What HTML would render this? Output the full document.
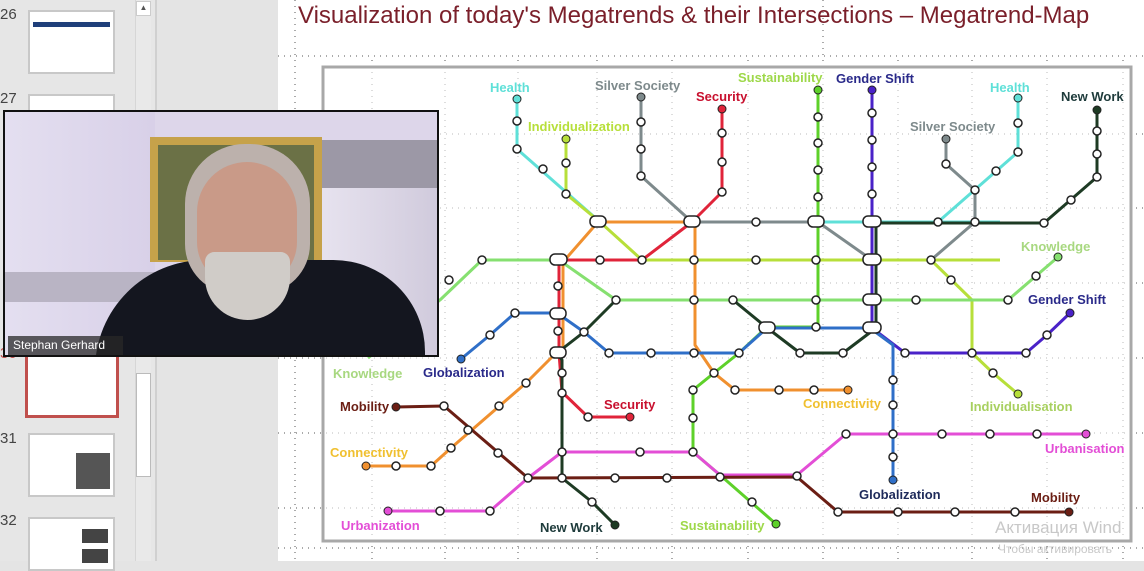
<!DOCTYPE html>
<html><head><meta charset="utf-8"><style>
body{margin:0;width:1144px;height:561px;overflow:hidden;background:#e4e4e4;font-family:"Liberation Sans",sans-serif;position:relative}
.a{position:absolute}
.num{position:absolute;left:0;font-size:15px;color:#444}
.th{position:absolute;background:#fff;border:2px solid #c8c8c8}
.lb{font-family:"Liberation Sans",sans-serif;font-weight:bold}
</style></head><body>
<div class="a" style="left:0;top:0;width:155px;height:561px;background:#e6e6e6"></div>
<div class="a" style="left:155px;top:0;width:2px;height:561px;background:#d0d0d0"></div>
<div class="a" style="left:135px;top:0;width:15px;height:561px;background:#e9e9e9;border-left:1px solid #d6d6d6"></div>
<div class="a" style="left:136px;top:1px;width:13px;height:13px;background:#fff;border:1px solid #ccc;font-size:8px;text-align:center;line-height:12px;color:#555">▲</div>
<div class="a" style="left:136px;top:373px;width:13px;height:102px;background:#fff;border:1px solid #bbb"></div>
<div class="num" style="top:6px">26</div>
<div class="num" style="top:90px">27</div>
<div class="num" style="top:430px">31</div>
<div class="num" style="top:512px">32</div>
<div class="num" style="top:345px;color:#c0504d">30</div>
<div class="th" style="left:28px;top:10px;width:83px;height:60px"><div style="margin:10px 3px 0;height:5px;background:#1f3f7a"></div></div>
<div class="th" style="left:28px;top:94px;width:83px;height:20px"></div>
<div class="th" style="left:25px;top:352px;width:88px;height:60px;border:3px solid #c0504d"></div>
<div class="th" style="left:28px;top:433px;width:83px;height:60px"><div style="position:absolute;left:46px;top:18px;width:34px;height:36px;background:#555"></div></div>
<div class="th" style="left:28px;top:517px;width:83px;height:50px"><div style="position:absolute;left:52px;top:10px;width:26px;height:14px;background:#444"></div><div style="position:absolute;left:52px;top:30px;width:26px;height:14px;background:#444"></div></div>
<div class="a" style="left:278px;top:0;width:866px;height:561px;background:#fff"></div>
<div class="a" style="left:298px;top:2px;font-size:24px;color:#7a1f2a;white-space:nowrap">Visualization of today's Megatrends &amp; their Intersections – Megatrend-Map</div>
<svg class="a" style="left:0;top:0" width="1144" height="561">
<g stroke="#555" stroke-width="1" stroke-dasharray="1,5">
<line x1="278" y1="56" x2="1144" y2="56"/><line x1="278" y1="134" x2="1144" y2="134"/><line x1="278" y1="208" x2="1144" y2="208"/><line x1="278" y1="283" x2="1144" y2="283"/><line x1="278" y1="358" x2="1144" y2="358"/><line x1="278" y1="433" x2="1144" y2="433"/><line x1="278" y1="508" x2="1144" y2="508"/><line x1="278" y1="548" x2="1144" y2="548"/>
<line x1="295" y1="0" x2="295" y2="561"/><line x1="372" y1="60" x2="372" y2="561"/><line x1="445" y1="60" x2="445" y2="561"/><line x1="518" y1="60" x2="518" y2="561"/><line x1="597" y1="60" x2="597" y2="561"/><line x1="672" y1="60" x2="672" y2="561"/><line x1="748" y1="60" x2="748" y2="561"/><line x1="823" y1="0" x2="823" y2="561"/><line x1="898" y1="60" x2="898" y2="561"/><line x1="972" y1="60" x2="972" y2="561"/><line x1="1047" y1="60" x2="1047" y2="561"/><line x1="1123" y1="60" x2="1123" y2="561"/>
</g>
<rect x="323" y="67" width="808" height="474" fill="#fff" fill-opacity="0.6" stroke="#a8a8a8" stroke-width="3"/>
<g fill="none" stroke-width="3" stroke-linejoin="round">
<polyline stroke="#5fe0d8" points="517,97 517,149 600,222 1000,222"/>
<polyline stroke="#5fe0d8" points="1018,98 1018,152 938,222 872,222"/>
<polyline stroke="#b7df3a" points="566,139 566,194 600,222 642,260 1000,260"/>
<polyline stroke="#b7df3a" points="872,260 931,260 972,300 972,353 993,373 1018,394"/>
<polyline stroke="#7e8a8c" points="641,97 641,176 692,222 818,222 872,260"/>
<polyline stroke="#7e8a8c" points="946,139 946,164 975,190 975,222 931,260"/>
<polyline stroke="#e0243a" points="722,109 722,192 692,222 642,260 559,260 559,353 562,392 588,417 630,417"/>
<polyline stroke="#f0902f" points="563,353 563,262 598,222 695,222 695,345 714,373 735,390 848,390"/>
<polyline stroke="#f0902f" points="366,466 431,466 451,448 526,383 556,353"/>
<polyline stroke="#5ed12a" points="818,90 818,327 767,327 739,353 714,373 693,390 693,452 720,475 776,524"/>
<polyline stroke="#4a22c8" points="872,90 872,328 905,353 1026,353 1047,335 1070,313"/>
<polyline stroke="#1e3b24" points="1097,110 1097,177 1044,223 875,223"/>
<polyline stroke="#1e3b24" points="876,222 876,328 843,353 800,353 766,327 733,300 616,300 584,332 557,353 562,360 562,478 592,502 615,525"/>
<polyline stroke="#86e070" points="368,358 440,300 482,260 559,260 616,300 733,300 1008,300 1058,257"/>
<polyline stroke="#2f6fc8" points="461,359 490,335 515,313 557,313 584,332 609,353 739,353 767,328 870,328 893,345 893,480"/>
<polyline stroke="#e34ed6" points="388,511 490,511 528,478 562,452 693,452 720,475 797,475 846,434 1086,434"/>
<polyline stroke="#6b1e14" points="396,407 444,406 528,478 797,477 838,512 1069,512"/>
</g>
<g fill="#fff" stroke="#222" stroke-width="1.5">
<circle cx="517" cy="121" r="4"/><circle cx="517" cy="149" r="4"/><circle cx="543" cy="169" r="4"/><circle cx="566" cy="163" r="4"/><circle cx="566" cy="194" r="4"/><circle cx="641" cy="122" r="4"/><circle cx="641" cy="149" r="4"/><circle cx="641" cy="176" r="4"/><circle cx="722" cy="133" r="4"/><circle cx="722" cy="162" r="4"/><circle cx="722" cy="192" r="4"/><circle cx="818" cy="117" r="4"/><circle cx="818" cy="143" r="4"/><circle cx="818" cy="170" r="4"/><circle cx="818" cy="197" r="4"/><circle cx="872" cy="113" r="4"/><circle cx="872" cy="140" r="4"/><circle cx="872" cy="167" r="4"/><circle cx="872" cy="194" r="4"/><circle cx="1018" cy="123" r="4"/><circle cx="1018" cy="152" r="4"/><circle cx="996" cy="171" r="4"/><circle cx="946" cy="164" r="4"/><circle cx="975" cy="190" r="4"/><circle cx="1097" cy="131" r="4"/><circle cx="1097" cy="154" r="4"/><circle cx="1097" cy="177" r="4"/><circle cx="1071" cy="200" r="4"/><circle cx="1044" cy="223" r="4"/><circle cx="938" cy="222" r="4"/><circle cx="975" cy="222" r="4"/><circle cx="756" cy="222" r="4"/><circle cx="931" cy="260" r="4"/><circle cx="951" cy="280" r="4"/><circle cx="916" cy="300" r="4"/><circle cx="1008" cy="300" r="4"/><circle cx="1036" cy="276" r="4"/><circle cx="600" cy="260" r="4"/><circle cx="642" cy="260" r="4"/><circle cx="694" cy="260" r="4"/><circle cx="756" cy="260" r="4"/><circle cx="816" cy="260" r="4"/><circle cx="482" cy="260" r="4"/><circle cx="449" cy="280" r="4"/><circle cx="558" cy="286" r="4"/><circle cx="558" cy="331" r="4"/><circle cx="616" cy="300" r="4"/><circle cx="694" cy="300" r="4"/><circle cx="733" cy="300" r="4"/><circle cx="816" cy="300" r="4"/><circle cx="515" cy="313" r="4"/><circle cx="490" cy="335" r="4"/><circle cx="584" cy="332" r="4"/><circle cx="609" cy="353" r="4"/><circle cx="651" cy="353" r="4"/><circle cx="694" cy="353" r="4"/><circle cx="739" cy="353" r="4"/><circle cx="816" cy="327" r="4"/><circle cx="800" cy="353" r="4"/><circle cx="843" cy="353" r="4"/><circle cx="905" cy="353" r="4"/><circle cx="972" cy="353" r="4"/><circle cx="1026" cy="353" r="4"/><circle cx="1047" cy="335" r="4"/><circle cx="993" cy="373" r="4"/><circle cx="893" cy="380" r="4"/><circle cx="893" cy="405" r="4"/><circle cx="893" cy="457" r="4"/><circle cx="714" cy="373" r="4"/><circle cx="735" cy="390" r="4"/><circle cx="779" cy="390" r="4"/><circle cx="814" cy="390" r="4"/><circle cx="693" cy="390" r="4"/><circle cx="693" cy="418" r="4"/><circle cx="562" cy="373" r="4"/><circle cx="562" cy="393" r="4"/><circle cx="588" cy="417" r="4"/><circle cx="526" cy="383" r="4"/><circle cx="499" cy="406" r="4"/><circle cx="451" cy="448" r="4"/><circle cx="431" cy="466" r="4"/><circle cx="396" cy="466" r="4"/><circle cx="444" cy="406" r="4"/><circle cx="468" cy="430" r="4"/><circle cx="498" cy="453" r="4"/><circle cx="528" cy="478" r="4"/><circle cx="562" cy="478" r="4"/><circle cx="562" cy="452" r="4"/><circle cx="640" cy="452" r="4"/><circle cx="693" cy="452" r="4"/><circle cx="615" cy="478" r="4"/><circle cx="667" cy="478" r="4"/><circle cx="720" cy="477" r="4"/><circle cx="797" cy="476" r="4"/><circle cx="592" cy="502" r="4"/><circle cx="752" cy="502" r="4"/><circle cx="846" cy="434" r="4"/><circle cx="893" cy="434" r="4"/><circle cx="942" cy="434" r="4"/><circle cx="990" cy="434" r="4"/><circle cx="1037" cy="434" r="4"/><circle cx="440" cy="511" r="4"/><circle cx="490" cy="511" r="4"/><circle cx="838" cy="512" r="4"/><circle cx="898" cy="512" r="4"/><circle cx="955" cy="512" r="4"/><circle cx="1015" cy="512" r="4"/>
<rect x="590" y="216" width="16" height="11" rx="5"/><rect x="684" y="216" width="16" height="11" rx="5"/><rect x="808" y="216" width="16" height="11" rx="5"/><rect x="863" y="216" width="18" height="11" rx="5"/><rect x="550" y="254" width="17" height="11" rx="5"/><rect x="863" y="254" width="18" height="11" rx="5"/><rect x="863" y="294" width="18" height="11" rx="5"/><rect x="863" y="322" width="18" height="11" rx="5"/><rect x="759" y="322" width="16" height="11" rx="5"/><rect x="550" y="308" width="16" height="11" rx="5"/><rect x="550" y="347" width="16" height="11" rx="5"/>
</g>
<g stroke="#222" stroke-width="1">
<circle cx="517" cy="99" r="4" fill="#5fe0d8"/><circle cx="566" cy="139" r="4" fill="#b7df3a"/><circle cx="641" cy="97" r="4" fill="#7e8a8c"/><circle cx="722" cy="109" r="4" fill="#e0243a"/><circle cx="818" cy="90" r="4" fill="#5ed12a"/><circle cx="872" cy="90" r="4" fill="#4a22c8"/><circle cx="1018" cy="98" r="4" fill="#5fe0d8"/><circle cx="946" cy="139" r="4" fill="#7e8a8c"/><circle cx="1097" cy="110" r="4" fill="#1e3b24"/><circle cx="1058" cy="257" r="4" fill="#86e070"/><circle cx="1070" cy="313" r="4" fill="#4a22c8"/><circle cx="1018" cy="394" r="4" fill="#b7df3a"/><circle cx="848" cy="390" r="4" fill="#f0902f"/><circle cx="630" cy="417" r="4" fill="#e0243a"/><circle cx="1086" cy="434" r="4" fill="#e34ed6"/><circle cx="1069" cy="512" r="4" fill="#6b1e14"/><circle cx="893" cy="480" r="4" fill="#2f6fc8"/><circle cx="776" cy="524" r="4" fill="#5ed12a"/><circle cx="615" cy="525" r="4" fill="#1e3b24"/><circle cx="388" cy="511" r="4" fill="#e34ed6"/><circle cx="366" cy="466" r="4" fill="#f0902f"/><circle cx="396" cy="407" r="4" fill="#6b1e14"/><circle cx="461" cy="359" r="4" fill="#2f6fc8"/>
</g>
<g class="lb" font-size="13">
<text x="490" y="92" fill="#5fe0d8">Health</text>
<text x="528" y="131" fill="#b7df3a">Individualization</text>
<text x="595" y="90" fill="#7e8a8c">Silver Society</text>
<text x="696" y="101" fill="#c8102e">Security</text>
<text x="738" y="82" fill="#9ed84a">Sustainability</text>
<text x="836" y="83" fill="#2a2a8a">Gender Shift</text>
<text x="990" y="92" fill="#5fe0d8">Health</text>
<text x="910" y="131" fill="#7e8a8c">Silver Society</text>
<text x="1061" y="101" fill="#1e3b3b">New Work</text>
<text x="1021" y="251" fill="#a8d880">Knowledge</text>
<text x="1028" y="304" fill="#2a2a8a">Gender Shift</text>
<text x="970" y="411" fill="#a8d060">Individualisation</text>
<text x="803" y="408" fill="#f0c030">Connectivity</text>
<text x="604" y="409" fill="#c8102e">Security</text>
<text x="1045" y="453" fill="#e34ed6">Urbanisation</text>
<text x="859" y="499" fill="#1e2a5a">Globalization</text>
<text x="1031" y="502" fill="#6b1e14">Mobility</text>
<text x="680" y="530" fill="#9ed84a">Sustainability</text>
<text x="540" y="532" fill="#1e3b3b">New Work</text>
<text x="341" y="530" fill="#e34ed6">Urbanization</text>
<text x="330" y="457" fill="#f0c030">Connectivity</text>
<text x="340" y="411" fill="#6b1e14">Mobility</text>
<text x="333" y="378" fill="#a8d880">Knowledge</text>
<text x="423" y="377" fill="#2a2a8a">Globalization</text>
</g>
<text x="995" y="533" font-size="17" fill="#c8c8c8" font-family="Liberation Sans">Активация Wind</text>
<text x="998" y="553" font-size="12" fill="#c8c8c8" font-family="Liberation Sans">Чтобы активировать</text>
</svg>
<div class="a" style="left:3px;top:110px;width:432px;height:243px;border:2px solid #111;overflow:hidden;background:#ddd6ea">
<div class="a" style="left:0;top:0;width:150px;height:243px;background:linear-gradient(90deg,#e4dff0,#d8d0e8)"></div>
<div class="a" style="left:0;top:160px;width:160px;height:30px;background:#b9b4c4"></div>
<div class="a" style="left:305px;top:28px;width:130px;height:48px;background:#9c98a6"></div>
<div class="a" style="left:310px;top:76px;width:125px;height:170px;background:linear-gradient(90deg,#e8e4f0,#d0cadc)"></div>
<div class="a" style="left:145px;top:25px;width:172px;height:125px;background:#c6a24a"></div>
<div class="a" style="left:153px;top:33px;width:156px;height:115px;background:#6b7146"></div>
<div class="a" style="left:90px;top:148px;width:330px;height:110px;background:#14161f;border-radius:120px 100px 0 0"></div>
<div class="a" style="left:180px;top:32px;width:125px;height:150px;background:#bcb1ac;border-radius:60px 60px 50px 50px"></div>
<div class="a" style="left:192px;top:50px;width:100px;height:125px;background:#c99a88;border-radius:50px 50px 45px 45px"></div>
<div class="a" style="left:200px;top:140px;width:85px;height:68px;background:#d0ccc8;border-radius:10px 10px 45px 45px"></div>
<div class="a" style="left:3px;top:224px;width:110px;height:19px;background:rgba(40,40,40,.75);color:#fff;font-size:12px;line-height:19px;padding-left:5px">Stephan Gerhard</div>
</div>
</body></html>
